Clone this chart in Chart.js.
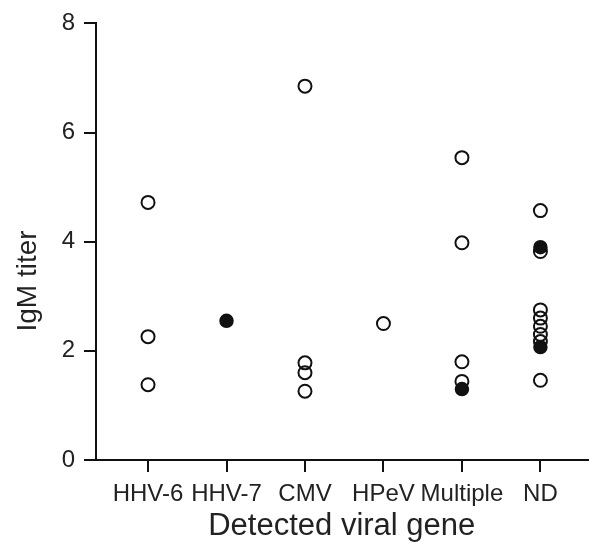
<!DOCTYPE html>
<html>
<head>
<meta charset="utf-8">
<script src="https://cdn.jsdelivr.net/npm/chart.js@4"></script>
<style>
  html, body { margin: 0; padding: 0; background: #fff; }
  #wrap { width: 596px; height: 546px; position: relative; }
</style>
</head>
<body>
<div id="wrap"><canvas id="c"></canvas></div>
<script>
const categories = ['HHV-6', 'HHV-7', 'CMV', 'HPeV', 'Multiple', 'ND'];
const yTicks = [0, 2, 4, 6, 8];
const yTitle = 'IgM titer';
const xTitle = 'Detected viral gene';

// open circles: category index (1-based) and IgM titer
const openCategory = [1, 1, 1, 3, 3, 3, 3, 4, 5, 5, 5, 5, 6, 6, 6, 6, 6, 6, 6, 6];
const openTiter    = [4.72, 2.26, 1.38, 6.85, 1.78, 1.6, 1.26, 2.5, 5.54, 3.98, 1.8, 1.44, 4.57, 3.82, 2.75, 2.6, 2.45, 2.3, 2.17, 1.46];

// filled circles
const filledCategory = [2, 5, 6, 6];
const filledTiter    = [2.55, 1.3, 3.9, 2.07];

const toPts = (xs, ys) => xs.map((x, i) => ({ x: x, y: ys[i] }));

const font = 'Liberation Sans, Arial, sans-serif';

const yTitlePlugin = {
  id: 'yTitlePlugin',
  afterDraw(chart) {
    const ctx = chart.ctx;
    const y = chart.scales.y;
    ctx.save();
    ctx.translate(28, y.getPixelForValue(3.28));
    ctx.rotate(-Math.PI / 2);
    ctx.textAlign = 'center';
    ctx.textBaseline = 'middle';
    ctx.fillStyle = '#222';
    ctx.font = '28px ' + font;
    ctx.fillText(yTitle, 0, 0);
    ctx.restore();
  }
};

new Chart(document.getElementById('c'), {
  type: 'scatter',
  data: {
    datasets: [
      {
        label: 'filled',
        data: toPts(filledCategory, filledTiter),
        pointRadius: 6.5,
        pointBackgroundColor: '#111',
        pointBorderColor: '#111',
        pointBorderWidth: 1.5,
        order: 2
      },
      {
        label: 'open',
        data: toPts(openCategory, openTiter),
        pointRadius: 6.5,
        pointBackgroundColor: 'rgba(0,0,0,0)',
        pointBorderColor: '#111',
        pointBorderWidth: 2,
        order: 1
      }
    ]
  },
  plugins: [yTitlePlugin],
  options: {
    responsive: true,
    maintainAspectRatio: false,
    animation: false,
    layout: { padding: { top: 21, right: 0, left: 0, bottom: 0 } },
    plugins: { legend: { display: false }, tooltip: { enabled: false } },
    scales: {
      x: {
        type: 'linear',
        min: 0.337,
        max: 6.6,
        afterBuildTicks: (s) => { s.ticks = categories.map((c, i) => ({ value: i + 1 })); },
        afterFit: (s) => { s.height = 86; },
        border: { display: true, color: '#111', width: 2 },
        grid: { display: true, drawOnChartArea: false, drawTicks: true, tickLength: 12, color: '#111', lineWidth: 2 },
        ticks: {
          callback: (v) => categories[Math.round(v) - 1] || '',
          autoSkip: false,
          maxRotation: 0,
          padding: 8,
          color: '#222',
          font: { family: font, size: 24 }
        },
        title: {
          display: true,
          text: xTitle,
          color: '#222',
          font: { family: font, size: 31 },
          padding: { top: 0, bottom: 1 }
        }
      },
      y: {
        min: 0,
        max: 8,
        afterBuildTicks: (s) => { s.ticks = yTicks.map(v => ({ value: v })); },
        afterFit: (s) => { s.width = 96; },
        border: { display: true, color: '#111', width: 2 },
        grid: { display: true, drawOnChartArea: false, drawTicks: true, tickLength: 12, color: '#111', lineWidth: 2 },
        ticks: {
          padding: 9,
          color: '#222',
          font: { family: font, size: 24 }
        },
        title: { display: false }
      }
    }
  }
});
</script>
</body>
</html>
